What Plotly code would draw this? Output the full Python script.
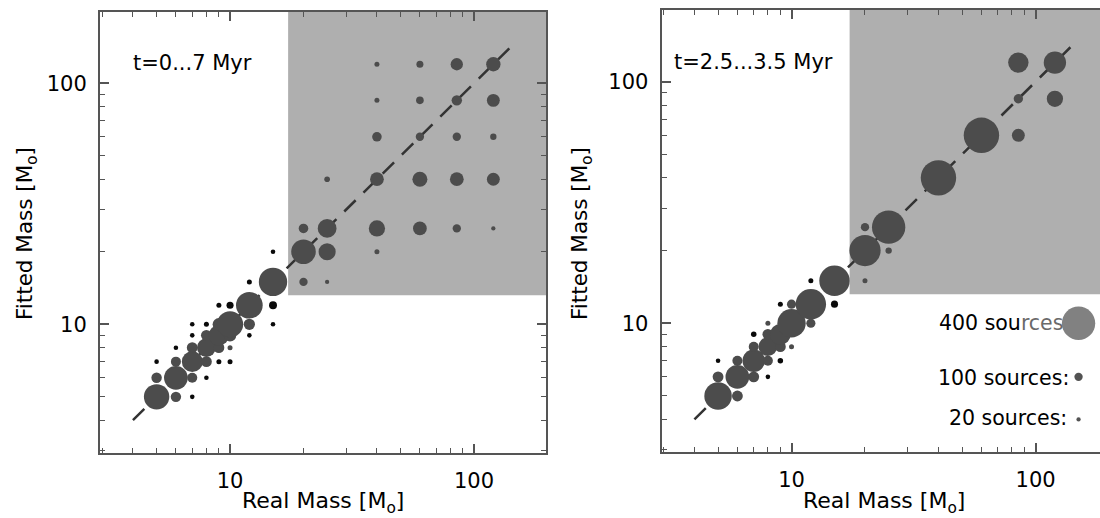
import plotly.graph_objects as go

W, H = 1100, 518

# ---- t = 0 ... 7 Myr : real mass, fitted mass, number of sources, small-dot flag
left_real = [5, 5, 5, 6, 6, 6, 6, 7, 7, 7, 7, 7, 7,
             8, 8, 8, 8, 8, 9, 9, 9, 9, 9, 10, 10, 10, 10, 10,
             12, 12, 12, 12, 15, 15, 15, 15,
             20, 25, 20, 25, 40, 20, 25, 40, 60, 85, 120,
             25, 40, 60, 85, 120, 40, 60, 85, 120,
             40, 60, 85, 120, 40, 60, 85, 120]
left_fit = [5, 6, 7, 5, 6, 7, 8, 5, 6, 7, 8, 9, 10,
            6, 7, 8, 9, 10, 7, 8, 9, 10, 12, 7, 8, 9, 10, 12,
            9, 10, 12, 15, 10, 12, 15, 20,
            15, 15, 20, 20, 20, 25, 25, 25, 25, 25, 25,
            40, 40, 40, 40, 40, 60, 60, 60, 60,
            85, 85, 85, 85, 120, 120, 120, 120]
left_n = [305, 125, 55, 125, 285, 120, 55, 55, 120, 250, 130, 55, 55,
          55, 130, 225, 130, 60, 60, 130, 245, 150, 60, 60, 60, 150, 315, 85,
          55, 135, 320, 60, 55, 95, 340, 55,
          100, 50, 295, 205, 60, 115, 225, 195, 165, 100, 50,
          68, 165, 180, 165, 155, 115, 100, 100, 76,
          60, 92, 125, 155, 60, 84, 148, 172]
left_black = [0, 0, 1, 0, 0, 0, 1, 1, 0, 0, 0, 1, 1,
              1, 0, 0, 0, 1, 1, 0, 0, 0, 1, 1, 0, 0, 0, 1,
              1, 0, 0, 1, 1, 1, 0, 1,
              0, 0, 0, 0, 0, 0, 0, 0, 0, 0, 0,
              0, 0, 0, 0, 0, 0, 0, 0, 0,
              0, 0, 0, 0, 0, 0, 0, 0]

# ---- t = 2.5 ... 3.5 Myr
right_real = [5, 5, 5, 6, 6, 6, 7, 7, 7, 7,
              8, 8, 8, 8, 8, 9, 9, 9, 9, 10, 10, 10,
              12, 12, 12, 15, 15, 20, 20, 20, 25, 25,
              40, 60, 85, 85, 120, 85, 120]
right_fit = [5, 6, 7, 5, 6, 7, 6, 7, 8, 9,
             6, 7, 8, 9, 10, 7, 8, 9, 12, 8, 10, 12,
             10, 12, 15, 12, 15, 15, 20, 25, 20, 25,
             40, 60, 60, 85, 85, 120, 120]
right_n = [330, 130, 55, 130, 285, 120, 130, 270, 120, 66,
           55, 120, 225, 130, 60, 66, 130, 250, 60, 60, 340, 110,
           110, 365, 60, 85, 365, 60, 375, 100, 76, 400,
           425, 425, 155, 112, 195, 245, 268]
right_black = [0, 0, 1, 0, 0, 0, 0, 0, 0, 1,
               1, 0, 0, 0, 0, 1, 0, 0, 1, 0, 0, 0,
               0, 0, 1, 1, 0, 0, 0, 0, 0, 0,
               0, 0, 0, 0, 0, 0, 0]

# key symbols drawn inside the right panel
key_real = [150, 150, 150]
key_fit = [10, 6, 4]
key_n = [400, 100, 20]
key_black = [0, 1, 1]

panel_labels = ["t=0...7 Myr", "t=2.5...3.5 Myr"]
diag = [4, 140]
shade_x = [17.3, 400, 400, 17.3]
shade_y = [13.2, 13.2, 400, 400]

GREY = "#4c4c4c"
BLACK = "#0a0a0a"
FONT = "DejaVu Sans"


def sizes(counts):
    return [max(c / 12.0, 4.3) for c in counts]


def colors(flags):
    return [BLACK if f else GREY for f in flags]


fig = go.Figure()


def add_panel(xa, ya, real, fit, n, black):
    fig.add_trace(go.Scatter(x=shade_x, y=shade_y, fill="toself", mode="lines",
                             fillcolor="#afafaf", line=dict(width=0),
                             xaxis=xa, yaxis=ya, hoverinfo="skip"))
    fig.add_trace(go.Scatter(x=diag, y=diag, mode="lines",
                             line=dict(color="#333333", width=2.5, dash="16px,11px"),
                             xaxis=xa, yaxis=ya))
    fig.add_trace(go.Scatter(x=real, y=fit, mode="markers",
                             marker=dict(size=sizes(n), color=colors(black),
                                         line=dict(width=0), opacity=1),
                             xaxis=xa, yaxis=ya))


add_panel("x", "y", left_real, left_fit, left_n, left_black)
add_panel("x2", "y2", right_real, right_fit, right_n, right_black)
fig.add_trace(go.Scatter(x=key_real, y=key_fit, mode="markers",
                         marker=dict(size=sizes(key_n), color=colors(key_black),
                                     line=dict(width=0)),
                         xaxis="x2", yaxis="y2", cliponaxis=False))

minor_vals = [3, 4, 5, 6, 7, 8, 9, 20, 30, 40, 50, 60, 70, 80, 90, 200]
axis_common = dict(
    type="log", showgrid=False, zeroline=False,
    showline=True, linecolor="#555555", linewidth=2,
    ticks="inside", ticklen=9, tickwidth=1.5, tickcolor="#555555",
    tickvals=[10, 100], ticktext=["10", "100"],
    minor=dict(tickvals=minor_vals, ticks="inside", ticklen=5,
               tickwidth=1.2, tickcolor="#555555", showgrid=False),
    tickfont=dict(family=FONT, size=21, color="#000000"),
)

fig.update_layout(
    width=W, height=H,
    margin=dict(l=0, r=0, t=0, b=0),
    paper_bgcolor="white", plot_bgcolor="white",
    showlegend=False,
    xaxis=dict(axis_common, domain=[100 / W, 546 / W], range=[0.467, 2.295],
               anchor="y", mirror="ticks", ticklabelstandoff=8),
    yaxis=dict(axis_common, domain=[1 - 453 / H, 1 - 12 / H], range=[0.466, 2.296],
               anchor="x", mirror="ticks", ticklabelstandoff=7),
    xaxis2=dict(axis_common, domain=[661.6 / W, 1.0], range=[0.4676, 2.264],
                anchor="y2", mirror="ticks", ticklabelstandoff=8),
    yaxis2=dict(axis_common, domain=[1 - 452 / H, 1 - 10 / H], range=[0.467, 2.297],
                anchor="x2", mirror=False, ticklabelstandoff=7),
)


def px(x):
    return x / W


def py(y):
    return 1 - y / H


txt = dict(family=FONT, size=21, color="#000000")
key_font = dict(family=FONT, size=20.5, color="#000000")
ann = []
ann.append(dict(text=panel_labels[0], x=px(131), y=py(63), xanchor="left",
                yanchor="middle", font=txt))
ann.append(dict(text=panel_labels[1], x=px(672), y=py(62), xanchor="left",
                yanchor="middle", font=txt))
xtitle_font = dict(family=FONT, size=22, color="#000000")
ytitle_font = dict(family=FONT, size=21.5, color="#000000")
for cx in (323, 884):
    ann.append(dict(text="Real Mass [M<sub>o</sub>]", x=px(cx), y=py(502),
                    xanchor="center", yanchor="middle", font=xtitle_font))
for cx in (26, 581):
    ann.append(dict(text="Fitted Mass [M<sub>o</sub>]", x=px(cx), y=py(234),
                    xanchor="center", yanchor="middle", textangle=-90,
                    font=ytitle_font))
ann.append(dict(text="400 sou<span style='color:#6a6a6a'>rces</span>", x=px(937),
                y=py(323), xanchor="left", yanchor="middle", font=key_font))
ann.append(dict(text="100 sources:", x=px(1071), y=py(378), xanchor="right",
                yanchor="middle", font=key_font))
ann.append(dict(text="20 sources:", x=px(1069), y=py(418), xanchor="right",
                yanchor="middle", font=key_font))
for a in ann:
    a.update(xref="paper", yref="paper", showarrow=False)
fig.update_layout(annotations=ann)

fig.write_html("out.html")
